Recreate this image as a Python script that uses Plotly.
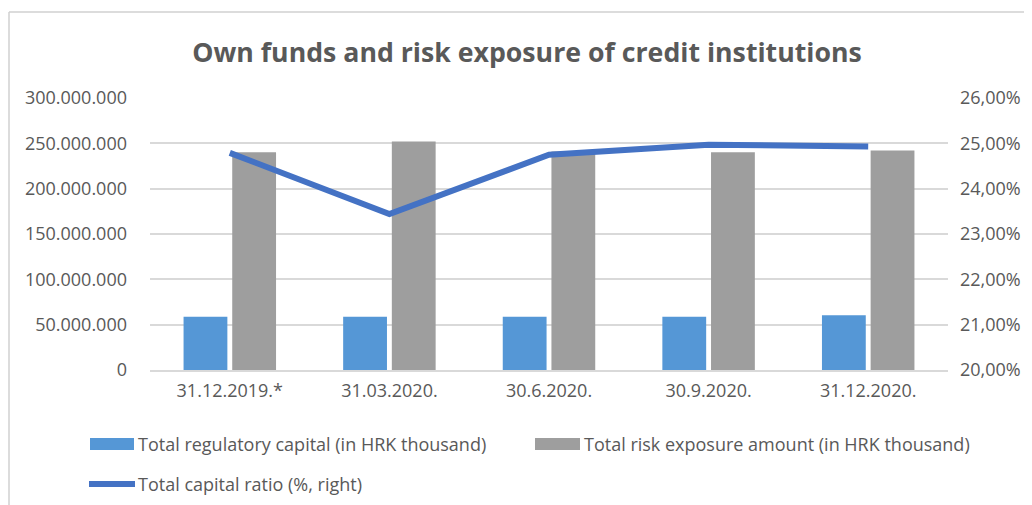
import plotly.graph_objects as go

categories = ["31.12.2019.*", "31.03.2020.", "30.6.2020.", "30.9.2020.", "31.12.2020."]
regulatory_capital = [58_700_000, 58_700_000, 58_800_000, 58_800_000, 60_500_000]
risk_exposure = [240_300_000, 252_000_000, 241_000_000, 240_300_000, 242_000_000]
capital_ratio = [0.2479, 0.2344, 0.2475, 0.2497, 0.2493]

left_ticks = [0, 50_000_000, 100_000_000, 150_000_000, 200_000_000, 250_000_000, 300_000_000]
right_ticks = [0.20, 0.21, 0.22, 0.23, 0.24, 0.25, 0.26]

series_names = [
    "Total regulatory capital (in HRK thousand)",
    "Total risk exposure amount (in HRK thousand)",
    "Total capital ratio (%, right)",
]

FONT = "Open Sans"
TXT = "#595959"
GRID = "#d9d9d9"
BLUE = "#5597d6"
GRAY = "#9e9e9e"
LINE = "#4472c4"

# page body has an 8px margin: figure is drawn from (8, 8) of the window
OFF = 8
W, H = 1032 - OFF, 505 - OFF
L, R, T, B = 150 - OFF, 84, 98 - OFF, 135
pw, ph = W - L - R, H - T - B


def fx(p):  # reference window x pixel -> paper
    return (p - OFF - L) / pw


def fy(p):  # reference window y pixel -> paper
    return (H - B - (p - OFF)) / ph


fig = go.Figure()
fig.add_trace(go.Bar(
    x=categories, y=regulatory_capital, name=series_names[0],
    marker=dict(color=BLUE, line=dict(width=0)),
))
fig.add_trace(go.Bar(
    x=categories, y=risk_exposure, name=series_names[1],
    marker=dict(color=GRAY, line=dict(width=0)),
))
fig.add_trace(go.Scatter(
    x=categories, y=capital_ratio, name=series_names[2], yaxis="y2",
    mode="lines", line=dict(color=LINE, width=6),
))

shapes = [
    # frame
    dict(type="line", xref="paper", yref="paper", x0=fx(9), x1=fx(1032),
         y0=fy(12), y1=fy(12), line=dict(color="#d0d0d0", width=1.5)),
    dict(type="line", xref="paper", yref="paper", x0=fx(9), x1=fx(9),
         y0=fy(12), y1=fy(505), line=dict(color="#d0d0d0", width=1.5)),
    # legend swatches
    dict(type="rect", xref="paper", yref="paper", x0=fx(90), x1=fx(134),
         y0=fy(450), y1=fy(438), fillcolor=BLUE, line=dict(width=0)),
    dict(type="rect", xref="paper", yref="paper", x0=fx(535), x1=fx(580),
         y0=fy(450), y1=fy(438), fillcolor=GRAY, line=dict(width=0)),
    dict(type="line", xref="paper", yref="paper", x0=fx(89), x1=fx(135),
         y0=fy(484), y1=fy(484), line=dict(color=LINE, width=6)),
]

annotations = [
    dict(text=series_names[0], xref="paper", yref="paper", x=fx(136), y=fy(444),
         xanchor="left", yanchor="middle", showarrow=False, font=dict(size=18, color=TXT)),
    dict(text=series_names[1], xref="paper", yref="paper", x=fx(582), y=fy(444),
         xanchor="left", yanchor="middle", showarrow=False, font=dict(size=18, color=TXT)),
    dict(text=series_names[2], xref="paper", yref="paper", x=fx(136), y=fy(484),
         xanchor="left", yanchor="middle", showarrow=False, font=dict(size=18, color=TXT)),
]

fig.update_layout(
    width=W, height=H,
    margin=dict(l=L, r=R, t=T, b=B, autoexpand=False),
    paper_bgcolor="white", plot_bgcolor="white",
    separators=",.",
    showlegend=False,
    font=dict(family=FONT, color=TXT, size=18),
    title=dict(
        text="Own funds and risk exposure of credit institutions",
        x=(527 - OFF) / W, xanchor="center", y=1 - (53 - OFF) / H, yanchor="middle",
        font=dict(family=FONT, size=26.7, color=TXT, weight=700),
    ),
    barmode="group", bargap=0.39, bargroupgap=0.1,
    xaxis=dict(
        showgrid=False, showline=True, linecolor=GRID, linewidth=1.5,
        ticks="", tickfont=dict(size=18, color=TXT), ticklabelstandoff=4,
    ),
    yaxis=dict(
        range=[0, 300_000_000], tickvals=left_ticks, tickformat=",d",
        showgrid=True, gridcolor=GRID, gridwidth=1.5, zeroline=False,
        showline=False, ticks="", tickfont=dict(size=18, color=TXT),
        ticklabelstandoff=22,
    ),
    yaxis2=dict(
        overlaying="y", side="right", range=[0.20, 0.26], tickvals=right_ticks,
        tickformat=".2%", showgrid=False, zeroline=False, showline=False,
        ticks="", tickfont=dict(size=18, color=TXT), ticklabelstandoff=11,
    ),
    shapes=shapes,
    annotations=annotations,
)

fig.write_html("out.html")
